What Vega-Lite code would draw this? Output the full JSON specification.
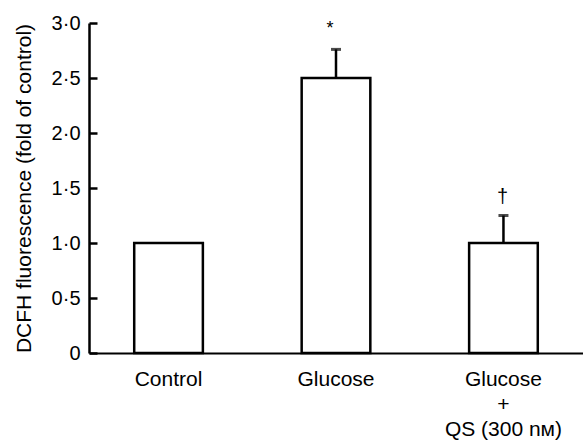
{
  "$schema": "https://vega.github.io/schema/vega-lite/v6.json",
  "width": 494,
  "height": 330,
  "autosize": "none",
  "padding": {"left": 89, "top": 23, "right": 0, "bottom": 87},
  "background": "white",
  "config": {
    "view": {"stroke": null},
    "font": "Liberation Sans"
  },
  "data": {
    "values": [
      {"group": "Control", "value": 1.0, "upper": null, "sig": ""},
      {"group": "Glucose", "value": 2.5, "upper": 2.76, "sig": "*"},
      {"group": "Glucose+QS", "value": 1.0, "upper": 1.25, "sig": "†"}
    ]
  },
  "encoding": {
    "x": {
      "field": "group",
      "type": "nominal",
      "sort": null,
      "scale": {"paddingInner": 0.59, "paddingOuter": 0.27},
      "axis": {
        "title": null,
        "labelAngle": 0,
        "ticks": false,
        "domainColor": "black",
        "domainWidth": 2,
        "labelColor": "black",
        "labelFontSize": 21,
        "labelPadding": 15,
        "labelLineHeight": 25,
        "labelExpr": "datum.value == 'Glucose+QS' ? ['Glucose', '+', 'QS (300 nᴍ)'] : datum.value"
      }
    }
  },
  "layer": [
    {
      "mark": {"type": "bar", "fill": "white", "stroke": "black", "strokeWidth": 2.5},
      "encoding": {
        "y": {
          "field": "value",
          "type": "quantitative",
          "scale": {"domain": [0, 3]},
          "axis": {
            "title": "DCFH fluorescence (fold of control)",
            "titleFontSize": 21,
            "titleFontWeight": "normal",
            "titleColor": "black",
            "titlePadding": 17,
            "values": [0, 0.5, 1, 1.5, 2, 2.5, 3],
            "labelExpr": "datum.value == 0 ? '0' : replace(format(datum.value, '.1f'), '.', '·')",
            "labelFontSize": 20,
            "labelColor": "black",
            "labelPadding": 17,
            "tickSize": -8,
            "tickWidth": 2.5,
            "tickColor": "black",
            "domainColor": "black",
            "domainWidth": 2.5,
            "grid": false
          }
        }
      }
    },
    {
      "transform": [{"filter": "datum.upper != null"}],
      "mark": {"type": "rule", "color": "black", "strokeWidth": 2.5},
      "encoding": {
        "y": {"field": "value", "type": "quantitative"},
        "y2": {"field": "upper"}
      }
    },
    {
      "transform": [{"filter": "datum.upper != null"}],
      "mark": {"type": "tick", "color": "black", "thickness": 3, "size": 10, "orient": "horizontal"},
      "encoding": {
        "y": {"field": "upper", "type": "quantitative"}
      }
    },
    {
      "transform": [{"filter": "datum.sig == '*'"}],
      "mark": {"type": "text", "color": "black", "fontSize": 18, "baseline": "bottom", "dy": -11, "dx": -6},
      "encoding": {
        "y": {"field": "upper", "type": "quantitative"},
        "text": {"field": "sig"}
      }
    },
    {
      "transform": [{"filter": "datum.sig == '†'"}],
      "mark": {"type": "text", "color": "black", "fontSize": 20, "baseline": "bottom", "dy": -9, "dx": -1},
      "encoding": {
        "y": {"field": "upper", "type": "quantitative"},
        "text": {"field": "sig"}
      }
    }
  ]
}
